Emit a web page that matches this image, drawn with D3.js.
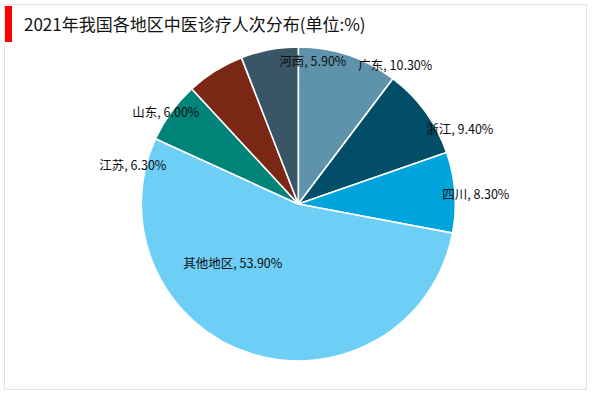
<!DOCTYPE html>
<html>
<head>
<meta charset="utf-8">
<script src="https://cdn.jsdelivr.net/npm/d3@7"></script>
<style>
  html, body { margin: 0; padding: 0; background: #fff; }
  svg { display: block; font-family: "Microsoft YaHei", "Noto Sans CJK SC", "Noto Sans", sans-serif; }
</style>
</head>
<body>
<svg id="chart" width="600" height="393"></svg>
<script>
// ---- data ----
const categories = ["广东", "浙江", "四川", "其他地区", "江苏", "山东", "河南"];
const values = [10.3, 9.4, 8.3, 53.9, 6.3, 6.0, 5.9];
const colors = ["#5f93ab", "#024e69", "#00a4dc", "#6dcff6", "#00847a", "#7a2815", "#3a5565"];
const title = "2021年我国各地区中医诊疗人次分布(单位:%)";

// label anchors relative to the pie centre (layout, not data)
const labelOffsets = [[60, -138], [128, -74], [144, -9], [-115, 60], [-199, -38], [-166, -91], [-19, -142]];

const svg = d3.select("#chart");

// frame
svg.append("rect").attr("x", 4.5).attr("y", 4.5).attr("width", 582).attr("height", 385)
  .attr("fill", "#fff").attr("stroke", "#e3e3e3").attr("stroke-width", 1);

// title
svg.append("rect").attr("x", 5).attr("y", 6).attr("width", 7).attr("height", 36).attr("fill", "#ff0000");
svg.append("text").attr("x", 24).attr("y", 31).attr("font-size", 17).attr("fill", "#111")
  .text(title);

const cx = 298.3, cy = 204, R = 157;
const g = svg.append("g").attr("transform", `translate(${cx},${cy})`);

const pie = d3.pie().sort(null).value(d => d.v);
const data = categories.map((c, i) => ({ c, v: values[i], color: colors[i], off: labelOffsets[i] }));
const arcs = pie(data);
const arc = d3.arc().innerRadius(0).outerRadius(R);

g.selectAll("path").data(arcs).enter().append("path")
  .attr("d", arc)
  .attr("fill", d => d.data.color)
  .attr("stroke", "#fff")
  .attr("stroke-width", 1.6)
  .attr("stroke-linejoin", "round");

g.selectAll("text.lbl").data(arcs).enter().append("text")
  .attr("class", "lbl")
  .attr("x", d => d.data.off[0])
  .attr("y", d => d.data.off[1])
  .attr("dy", "0.35em")
  .attr("font-size", 12.5)
  .attr("fill", "#0d0d0d")
  .text(d => `${d.data.c}, ${d.data.v.toFixed(2)}%`);
</script>
</body>
</html>
